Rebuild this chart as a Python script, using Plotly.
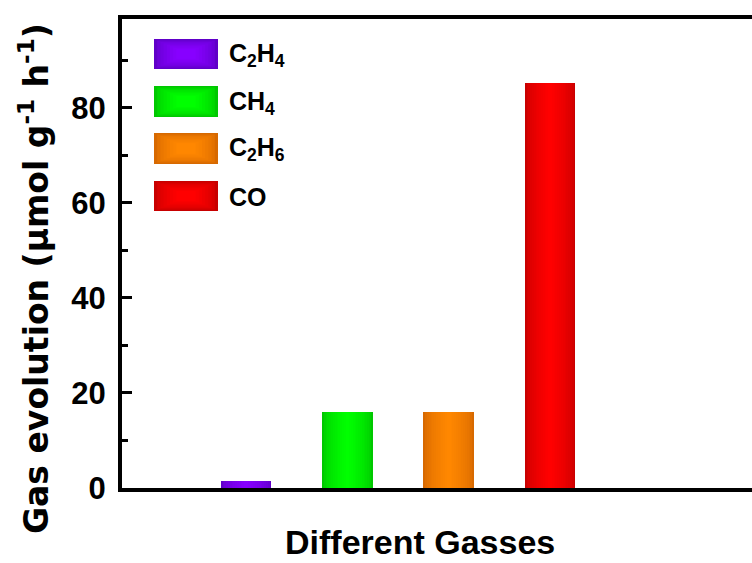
import plotly.graph_objects as go

# ---- data ----
gases = ["C<sub>2</sub>H<sub>4</sub>", "CH<sub>4</sub>", "C<sub>2</sub>H<sub>6</sub>", "CO"]
positions = [1, 2, 3, 4]
values = [1.4, 15.9, 15.9, 85.3]
edge_colors = [(96, 0, 200), (0, 200, 0), (215, 105, 0), (200, 0, 0)]
center_colors = [(135, 0, 255), (0, 255, 0), (255, 135, 0), (255, 0, 0)]
y_ticks = [0, 20, 40, 60, 80]

W, H = 752, 563
L, T, B, R = 122, 19, 75, 0
plot_w = W - L - R
plot_h = H - T - B

BAR_W = 0.5
N_STEPS = 14

def mix(c1, c2, t):
    return "rgb(%d,%d,%d)" % tuple(round(a + (b - a) * t) for a, b in zip(c1, c2))

fig = go.Figure()
for i in range(len(values)):
    for s in range(N_STEPS):
        frac = 1 - s / N_STEPS          # width fraction
        t = (s / (N_STEPS - 1)) ** 0.6  # colour towards centre
        fig.add_trace(go.Bar(
            x=[positions[i]], y=[values[i]], width=BAR_W * frac,
            marker=dict(color=mix(edge_colors[i], center_colors[i], t), line=dict(width=0)),
            showlegend=False, hoverinfo="skip",
        ))

# ---- custom legend (paper coordinates from pixel layout) ----
def px_x(px):
    return (px - L) / plot_w

def px_y(py):
    return (H - B - py) / plot_h

shapes = []
annotations = []
leg_rows = [(39, 69), (86, 117), (133, 164), (181, 211)]
for i, (top, bot) in enumerate(leg_rows):
    x0, x1 = 154, 218
    for s in range(8):
        t = (s / 7) ** 0.6
        inset = s * 3.2
        shapes.append(dict(
            type="rect", xref="paper", yref="paper",
            x0=px_x(x0 + inset), x1=px_x(x1 - inset),
            y0=px_y(bot - inset * 0.45), y1=px_y(top + inset * 0.45),
            fillcolor=mix(edge_colors[i], center_colors[i], t), line=dict(width=0), layer="above",
        ))
    annotations.append(dict(
        text=gases[i], xref="paper", yref="paper", x=px_x(227), y=px_y((top + bot) / 2 + 1),
        xanchor="left", yanchor="middle", showarrow=False,
        font=dict(family="Liberation Sans", size=25, color="black", weight="bold"),
    ))

annotations.append(dict(
    text="Different Gasses", xref="paper", yref="paper", x=px_x(420), y=px_y(542),
    xanchor="center", yanchor="middle", showarrow=False,
    font=dict(family="Liberation Sans", size=34, color="black", weight="bold"),
))
annotations.append(dict(
    text="Gas evolution (μmol g<sup>-1</sup> h<sup>-1</sup>)", xref="paper", yref="paper",
    x=px_x(34), y=px_y(279), textangle=-90,
    xanchor="center", yanchor="middle", showarrow=False,
    font=dict(family="DejaVu Sans", size=33, color="black", weight="bold"),
))

fig.update_layout(
    width=W, height=H,
    margin=dict(l=L, r=R, t=T, b=B, pad=0),
    paper_bgcolor="white", plot_bgcolor="white",
    barmode="overlay", bargap=0,
    showlegend=False,
    shapes=shapes, annotations=annotations,
)
fig.update_xaxes(
    range=[-0.224, 5.993], showgrid=False, zeroline=False,
    showline=True, linecolor="black", linewidth=4, mirror=True,
    showticklabels=False, ticks="",
)
fig.update_yaxes(
    range=[0, 98.7], showgrid=False, zeroline=False,
    showline=True, linecolor="black", linewidth=4, mirror=False,
    tickvals=y_ticks, ticktext=[str(v) for v in y_ticks],
    ticks="inside", ticklen=10, tickwidth=3, tickcolor="black",
    minor=dict(ticks="inside", ticklen=6, tickwidth=3, tickcolor="black", dtick=10, tick0=0),
    tickfont=dict(family="Liberation Sans", size=31, color="black", weight="bold"),
    ticklabelstandoff=6,
)

fig.write_html("out.html")
